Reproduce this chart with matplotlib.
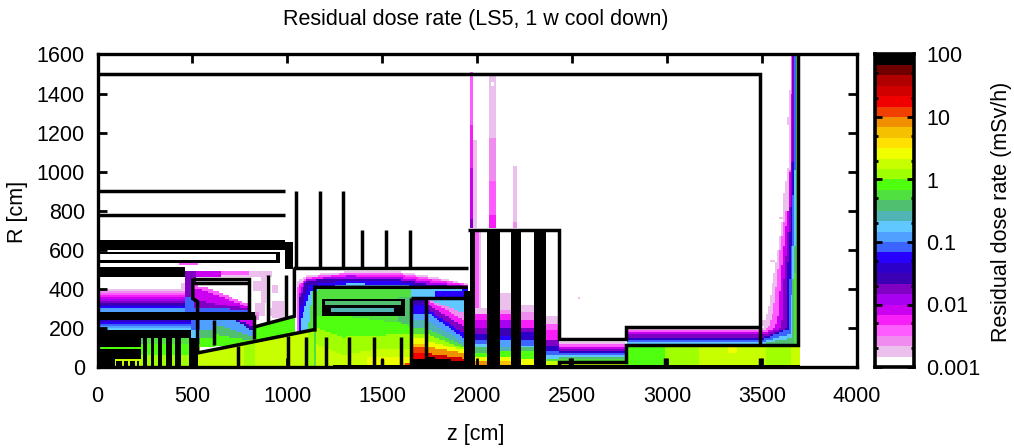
import numpy as np
import matplotlib
matplotlib.use("Agg")
import matplotlib.pyplot as plt
from matplotlib.colors import ListedColormap, BoundaryNorm
from matplotlib.path import Path
from matplotlib.ticker import FixedLocator, NullFormatter

plt.rcParams['font.family'] = ['Liberation Sans', 'DejaVu Sans']

# ---- colour scale (bottom to top), 6 levels per decade
LEVEL_COLORS = ['#FFFFFF', '#ECC0EC', '#F08CF0', '#FF5CFF', '#F81EF8', '#CC00F0',
                '#A800F0', '#8000C4', '#3C00B4', '#2C00C8', '#2800FF', '#3C64FF',
                '#50A0FF', '#60C8FF', '#50B4B4', '#50C070', '#50E040', '#50FF10',
                '#A0FF00', '#C8FF00', '#F0FF00', '#FFE000', '#F5C000', '#F09000',
                '#F04000', '#F00000', '#D00000', '#B00000', '#700000', '#000000']
CBAR_TICKS = [0.001, 0.01, 0.1, 1, 10, 100]
CBAR_LABELS = ['0.001', '0.01', '0.1', '1', '10', '100']
CBAR_MINOR = [m * d for d in (0.001, 0.01, 0.1, 1, 10) for m in (2, 5)]

# ---- residual dose map zones: (level, polygon) or (level, two corner points)
TOWER_LEVELS = [1, 3, 5, 7, 9, 11, 13, 15, 16]
CHANNEL_R = [200, 190, 175, 165, 150, 140, 130, 122, 118]
TOWER_EDGES = [
    [(3500, 146), (3505, 197), (3530, 283), (3560, 454), (3589, 625), (3610, 770), (3615, 880), (3640, 1050), (3640, 1270), (3651, 1600)],
    [(3500, 146), (3530, 197), (3560, 283), (3580, 454), (3598, 625), (3635, 880), (3648, 1050), (3655, 1600)],
    [(3500, 146), (3570, 197), (3590, 283), (3598, 454), (3615, 625), (3642, 880), (3660, 1600)],
    [(3500, 140), (3600, 197), (3610, 283), (3615, 454), (3630, 625), (3650, 880), (3655, 1050), (3665, 1600)],
    [(3500, 130), (3625, 197), (3625, 283), (3630, 454), (3640, 625), (3660, 880), (3665, 1050), (3668, 1600)],
    [(3500, 125), (3640, 197), (3640, 283), (3645, 454), (3655, 625), (3665, 880), (3668, 1050)],
    [(3500, 120), (3650, 170), (3650, 283), (3660, 454), (3665, 625), (3668, 880), (3677, 1052)],
    [(3500, 120), (3660, 150), (3660, 283), (3665, 454), (3675, 625)],
    [(3500, 115), (3668, 125), (3668, 283), (3680, 625)],
]
LOW_CHANNEL = [(1, 2430, 2785, 0, 135), (3, 2430, 2785, 0, 118), (5, 2430, 2785, 0, 105),
               (7, 2430, 2785, 0, 95), (9, 2430, 2785, 0, 80), (11, 2430, 2785, 0, 68),
               (13, 2430, 2785, 0, 58), (15, 2430, 2785, 0, 48), (16, 2430, 2785, 0, 40),
               (19, 2430, 2785, 0, 30)]
FAR_FLOOR = [(17, 2785, 2995, 0, 111), (18, 2995, 3170, 0, 111), (19, 3170, 3520, 0, 111),
             (20, 3320, 3370, 70, 100), (18, 3520, 3650, 0, 111), (19, 3650, 3700, 0, 111)]
SPECKLES = [(1, 3545, 3568, 540, 555), (1, 3630, 3650, 1240, 1280), (1, 3610, 3640, 800, 890),
            (1, 3590, 3620, 760, 775), (1, 2530, 2545, 350, 362), (1, 2850, 2880, 190, 215),
            (1, 3500, 3520, 210, 240), (1, 830, 880, 260, 330), (1, 860, 890, 330, 470),
            (1, 900, 925, 260, 300), (1, 925, 985, 250, 340), (1, 920, 950, 380, 420),
            (1, 820, 860, 395, 440), (2, 830, 850, 240, 280)]
PLUMES = [(1, 1985, 2000, 710, 1160), (3, 1965, 1985, 710, 1510), (4, 1965, 1985, 710, 1240),
          (5, 1965, 1985, 710, 1018), (7, 1965, 1985, 710, 761), (1, 2063, 2105, 710, 1488),
          (2, 2063, 2105, 710, 1171), (3, 2063, 2105, 710, 949), (4, 2063, 2105, 710, 778),
          (1, 2195, 2210, 710, 1035), (2, 2195, 2210, 710, 744)]
PLUME_HOLE = [(0, 2070, 2090, 1440, 1465)]
DOME = [
    (1, [(1045, 0), (1045, 430), (1063, 445), (1107, 470), (1326, 487), (1589, 487), (1765, 462), (1950, 424), (1950, 0)]),
    (3, [(1050, 0), (1050, 405), (1063, 425), (1107, 460), (1326, 480), (1589, 478), (1765, 452), (1950, 421), (1950, 0)]),
    (4, [(1055, 0), (1055, 400), (1063, 419), (1107, 453), (1326, 474), (1589, 470), (1765, 445), (1950, 419), (1950, 0)]),
    (6, [(1060, 0), (1060, 370), (1080, 420), (1107, 448), (1326, 466), (1589, 458), (1765, 433), (1950, 412), (1950, 0)]),
    (8, [(1063, 0), (1063, 350), (1090, 420), (1110, 443), (1326, 455), (1589, 447), (1765, 420), (1950, 408), (1950, 0)]),
    (10, [(1063, 0), (1063, 291), (1116, 419), (1326, 445), (1589, 436), (1765, 410), (1950, 402), (1950, 0)]),
    (13, [(1066, 0), (1066, 222), (1124, 393), (1326, 428), (1589, 419), (1950, 393), (1950, 0)]),
    (16, [(1090, 0), (1133, 393), (1326, 410), (1589, 407), (1650, 400), (1650, 0)]),
]
INTERIOR = [
    (16, [(1145, 0), (1145, 393), (1650, 393), (1650, 0)]),
    (15, [(1580, 215), (1580, 355), (1650, 355), (1650, 215)]),
    (17, [(1145, 0), (1145, 257), (1326, 257), (1624, 222), (1650, 200), (1650, 0)]),
    (18, [(1145, 0), (1145, 205), (1291, 154), (1642, 171), (1650, 171), (1650, 0)]),
    (19, [(1145, 0), (1145, 120), (1290, 60), (1440, 85), (1650, 85), (1650, 0)]),
    (20, [(1420, 0), (1420, 50), (1650, 50), (1650, 0)]),
    (22, [(1600, 0), (1600, 22), (1650, 22), (1650, 0)]),
    (24, [(1620, 0), (1620, 15), (1650, 15), (1650, 0)]),
]
CHAMBER_A = [(8, 1650, 1730, 0, 352), (10, 1650, 1730, 0, 320), (12, 1650, 1730, 0, 270),
             (14, 1650, 1730, 0, 240), (16, 1650, 1730, 0, 205), (18, 1650, 1730, 0, 170),
             (20, 1650, 1730, 0, 150), (22, 1650, 1730, 0, 120), (24, 1650, 1730, 0, 105),
             (25, 1650, 1730, 0, 68), (29, 1650, 1730, 0, 42)]
CHAMBER_B_LEVELS = [2, 4, 7, 10, 12, 14, 16, 18, 20, 23, 26, 29]
CHAMBER_B_LEFT = [352, 345, 325, 300, 285, 240, 200, 171, 137, 103, 69, 52]
CHAMBER_B_RIGHT = [274, 240, 205, 171, 150, 130, 111, 95, 85, 69, 43, 26]
BEYOND = [(13, 1650, 1780, 358, 392), (10, 1780, 1950, 358, 392)]
GAP_EDGE = [(3, 1993, 2010, 240, 700), (1, 2010, 2020, 300, 700)]
GAP_COLUMNS = [
    (1993, 2054, [(1, 300), (4, 274), (5, 240), (7, 205), (9, 171), (11, 137), (13, 120), (15, 100), (17, 69), (20, 52), (23, 26), (25, 15)]),
    (2116, 2180, [(1, 376), (2, 291), (4, 274), (6, 240), (8, 205), (10, 160), (12, 137), (14, 103), (17, 77), (20, 52), (22, 30)]),
    (2229, 2296, [(1, 325), (2, 280), (4, 240), (7, 205), (9, 180), (11, 137), (13, 115), (15, 103), (17, 77), (20, 45)]),
    (2356, 2430, [(1, 260), (3, 220), (4, 187), (7, 137), (9, 115), (11, 85), (13, 60), (16, 40), (19, 26)]),
]
LEFT_TOP = [(1, 0, 460, 282, 405), (1, 440, 460, 405, 430), (2, 0, 460, 282, 395), (3, 0, 460, 282, 385),
            (4, 0, 460, 282, 375), (5, 0, 460, 282, 365), (6, 0, 460, 282, 355), (7, 0, 460, 282, 345),
            (8, 0, 460, 282, 335), (9, 0, 460, 282, 325), (10, 0, 460, 282, 315), (11, 0, 460, 282, 305),
            (12, 0, 460, 282, 296), (3, 430, 530, 520, 555), (4, 450, 510, 535, 552)]
LEFT_MID = [(9, 0, 500, 188, 240), (10, 0, 500, 188, 230), (11, 0, 500, 188, 222), (12, 0, 500, 188, 212),
            (13, 50, 500, 188, 203), (10, 0, 50, 188, 205)]
TOP_STRIP = [(1, 600, 920, 463, 490), (3, 530, 800, 466, 487), (5, 480, 650, 465, 487)]
SIDE_WALL = [(7, 460, 519, 359, 487), (11, 460, 519, 282, 359), (11, 495, 540, 190, 282),
             (13, 495, 540, 150, 190), (15, 519, 540, 120, 150), (18, 519, 540, 75, 120)]
BOX_UPPER = [
    (3, [(510, 285), (510, 420), (600, 400), (800, 320), (800, 285)]),
    (5, [(510, 285), (510, 405), (600, 380), (800, 305), (800, 285)]),
    (7, [(510, 282), (510, 345), (650, 320), (800, 297), (800, 282)]),
    (11, [(510, 282), (510, 305), (800, 290), (800, 282)]),
]
BOX_RIBBON = [(4, 510, 795, 437, 450)]
BOX_LOWER = [
    (12, [(540, 100), (540, 240), (616, 240), (616, 100)]),
    (15, [(540, 100), (540, 190), (616, 190), (616, 100)]),
    (17, [(540, 100), (540, 150), (616, 150), (616, 100)]),
    (5, [(616, 110), (616, 240), (830, 240), (830, 110)]),
    (8, [(616, 110), (616, 240), (735, 240), (830, 205), (830, 110)]),
    (12, [(616, 110), (616, 240), (720, 240), (830, 180), (830, 110)]),
    (15, [(616, 110), (616, 220), (720, 190), (830, 150), (830, 110)]),
    (17, [(616, 110), (616, 170), (720, 150), (830, 135), (830, 110)]),
]
CONE_FLOOR = [(19, [(527, 0), (527, 75), (1145, 195), (1145, 0)]),
              (18, [(765, 0), (765, 125), (835, 140), (835, 0)]),
              (18, [(1110, 0), (1110, 185), (1145, 195), (1145, 0)])]
CONE_STRIP = [(17, [(826, 130), (826, 210), (1037, 262), (1037, 170)])]
COMB_BASE = [(29, 0, 230, 0, 154), (16, 230, 500, 0, 154), (15, 230, 260, 120, 154), (17, 230, 500, 0, 120),
             (18, 230, 500, 0, 65), (17, 230, 440, 100, 120)]
COMB_TEETH_Z = [250, 290, 330, 375, 425, 490]
COMB_TEETH_W = [20, 20, 20, 25, 25, 25]
SOLID_BLOCKS = [(0, 993, 602, 653), (0, 958, 585, 595), (0, 958, 533, 550), (940, 965, 533, 595),
                (993, 1028, 505, 640), (0, 458, 458, 515), (0, 827, 239, 282), (0, 495, 154, 188),
                (1958, 1993, 393, 700), (1932, 1993, 0, 393), (2054, 2116, 0, 700), (2180, 2229, 0, 700),
                (2296, 2356, 0, 700), (1240, 3700, 0, 10), (1730, 1830, 0, 20), (495, 527, 0, 154)]
ROUND_BOX = [(29, 1185, 1617, 265, 355), (15, 1205, 1600, 322, 342), (14, 1230, 1563, 282, 299)]
THIN_GREEN = [(17, 15, 230, 95, 105), (19, 88, 235, 33, 45), (19, 88, 98, 0, 45), (19, 128, 138, 0, 45),
              (19, 165, 175, 0, 45), (19, 200, 210, 0, 45), (19, 225, 235, 0, 45)]

# ---- structure outlines: z and R in cm
OUTLINES = [
    [(0, 1500), (3490, 1500), (3490, 111)], [(0, 900), (990, 900)], [(0, 780), (990, 780)],
    [(1045, 505), (1045, 900)], [(1170, 505), (1170, 900)], [(1295, 505), (1295, 900)],
    [(1395, 505), (1395, 700)], [(1520, 505), (1520, 700)], [(1645, 505), (1645, 700)],
    [(1028, 505), (1950, 505)],
    [(1950, 700), (2430, 700), (2430, 142), (2785, 142), (2785, 205), (3490, 205)],
    [(3690, 1600), (3690, 111), (2785, 111), (2785, 26), (2430, 26), (2430, 10)],
    [(2490, 0), (2490, 45)], [(2990, 0), (2990, 45)], [(3490, 0), (3490, 45)],
    [(502, 453), (800, 453), (800, 282)], [(510, 430), (800, 430)],
    [(502, 453), (502, 350), (527, 335), (527, 72), (1135, 190), (1145, 190), (1145, 408), (1950, 408)],
    [(1650, 352), (1950, 352)], [(1650, 352), (1650, 0)], [(1730, 352), (1730, 30)],
    [(826, 265), (826, 145)], [(826, 205), (1037, 260), (1037, 505)],
    [(896, 470), (896, 231)], [(993, 470), (993, 248)], [(616, 240), (616, 112)],
    [(738, 0), (738, 105)], [(1002, 0), (1002, 160)], [(1098, 0), (1098, 154)],
    [(1203, 0), (1203, 154)], [(1323, 0), (1323, 154)], [(1458, 0), (1458, 154)],
    [(1598, 0), (1598, 154)], [(1498, 0), (1498, 43)],
]
TITLE = 'Residual dose rate (LS5, 1 w cool down)'

# ---- build the map
dz = dr = 10.0
z_edges = np.arange(0, 4000 + dz, dz)
r_edges = np.arange(0, 1600 + dr, dr)
zc, rc = np.meshgrid(0.5 * (z_edges[1:] + z_edges[:-1]), 0.5 * (r_edges[1:] + r_edges[:-1]))
bounds = 10.0 ** np.linspace(-3, 2, len(LEVEL_COLORS) + 1)
centers = np.sqrt(bounds[1:] * bounds[:-1])
dose = np.full(zc.shape, centers[0])
pts = np.column_stack([zc.ravel(), rc.ravel()])


def poly(level, verts):
    dose[Path(verts + [verts[0]]).contains_points(pts).reshape(zc.shape)] = centers[level]


def rect(level, z0, z1, r0, r1):
    dose[(zc >= min(z0, z1)) & (zc < max(z0, z1)) & (rc >= r0) & (rc < r1)] = centers[level]


def rects(rows):
    for row in rows:
        rect(*row)


def polys(rows):
    for level, verts in rows:
        poly(level, verts)


# tower + channel
for lev, ch, edge in zip(TOWER_LEVELS, CHANNEL_R, TOWER_EDGES):
    top = edge[-1][1]
    poly(lev, [(2785, 0), (2785, ch), (3500, ch)] + edge[1:] + ([(edge[-1][0], 1600)] if top < 1600 else []) + [(3690, 1600), (3690, 0)])
rects(LOW_CHANNEL)
rects(FAR_FLOOR)
rects(SPECKLES)
rects(PLUMES)
rects(PLUME_HOLE)
polys(DOME)
polys(INTERIOR)
rects(CHAMBER_A)
for lev, a, b in zip(CHAMBER_B_LEVELS, CHAMBER_B_LEFT, CHAMBER_B_RIGHT):
    poly(lev, [(1730, 0), (1730, a), (1932, b), (1932, 0)])
rects(BEYOND)
rects(GAP_EDGE)
for z0, z1, prof in GAP_COLUMNS:
    for lev, top in prof:
        rect(lev, z0, z1, 0, top)
rects(LEFT_TOP)
rects(LEFT_MID)
rects(TOP_STRIP)
rects(SIDE_WALL)
polys(BOX_UPPER)
rects(BOX_RIBBON)
polys(BOX_LOWER)
polys(CONE_STRIP)
polys(CONE_FLOOR)
rects(COMB_BASE)
for zt, wt in zip(COMB_TEETH_Z, COMB_TEETH_W):
    rect(29, zt - wt / 2, zt + wt / 2, 0, 154)
for z0, z1, r0, r1 in SOLID_BLOCKS:
    rect(29, z0, z1, r0, r1)
rects(ROUND_BOX)
rects(THIN_GREEN)

# ---- figure
W, H = 1014, 448
fig = plt.figure(figsize=(W / 100, H / 100), dpi=100, facecolor='white')


def axes_px(x0, x1, y0, y1):
    return fig.add_axes([x0 / W, 1 - y1 / H, (x1 - x0) / W, (y1 - y0) / H])


FS = 15.5
ax = axes_px(97.5, 857, 54.5, 367)
cmap = ListedColormap(LEVEL_COLORS)
norm = BoundaryNorm(bounds, cmap.N)
ax.pcolormesh(z_edges, r_edges, dose, cmap=cmap, norm=norm, shading='flat', rasterized=True)
LW = 2.5
for line in OUTLINES:
    zs, rs = zip(*line)
    ax.plot(zs, rs, color='black', lw=LW, solid_capstyle='butt', solid_joinstyle='miter')
ax.set_xlim(0, 4000)
ax.set_ylim(0, 1600)
ax.set_xticks(np.arange(0, 4001, 500))
ax.set_yticks(np.arange(0, 1601, 200))
ax.tick_params(direction='in', length=6.5, width=2, top=True, right=True, labelsize=FS, pad=9)
ax.tick_params(axis='x', pad=14)
for s in ax.spines.values():
    s.set_linewidth(2.4)
fig.text(476 / W, 1 - 434 / H, 'z [cm]', ha='center', va='center', fontsize=FS)
fig.text(18 / W, 1 - 212 / H, 'R [cm]', rotation=90, ha='center', va='center', fontsize=FS)
fig.text(476 / W, 1 - 20 / H, TITLE, ha='center', va='center', fontsize=FS)

cax = axes_px(874.5, 914, 54.5, 367)
cax.pcolormesh([0, 1], bounds, np.array(centers)[:, None], cmap=cmap, norm=norm, shading='flat')
cax.set_yscale('log')
cax.set_ylim(0.001, 100)
cax.set_xlim(0, 1)
cax.set_xticks([])
cax.yaxis.set_major_locator(FixedLocator(CBAR_TICKS))
cax.set_yticklabels(CBAR_LABELS)
cax.yaxis.set_minor_locator(FixedLocator(CBAR_MINOR))
cax.yaxis.set_minor_formatter(NullFormatter())
cax.tick_params(axis='y', which='major', direction='in', length=5, width=2, left=True, right=True,
                labelleft=False, labelright=True, labelsize=FS, pad=9)
cax.tick_params(axis='y', which='minor', direction='in', length=2, width=2, left=True, right=True)
for s in cax.spines.values():
    s.set_linewidth(2.6)
fig.text(1001 / W, 1 - 212 / H, 'Residual dose rate (mSv/h)', rotation=90, ha='center', va='center', fontsize=FS)

fig.savefig('out.png', dpi=100)
